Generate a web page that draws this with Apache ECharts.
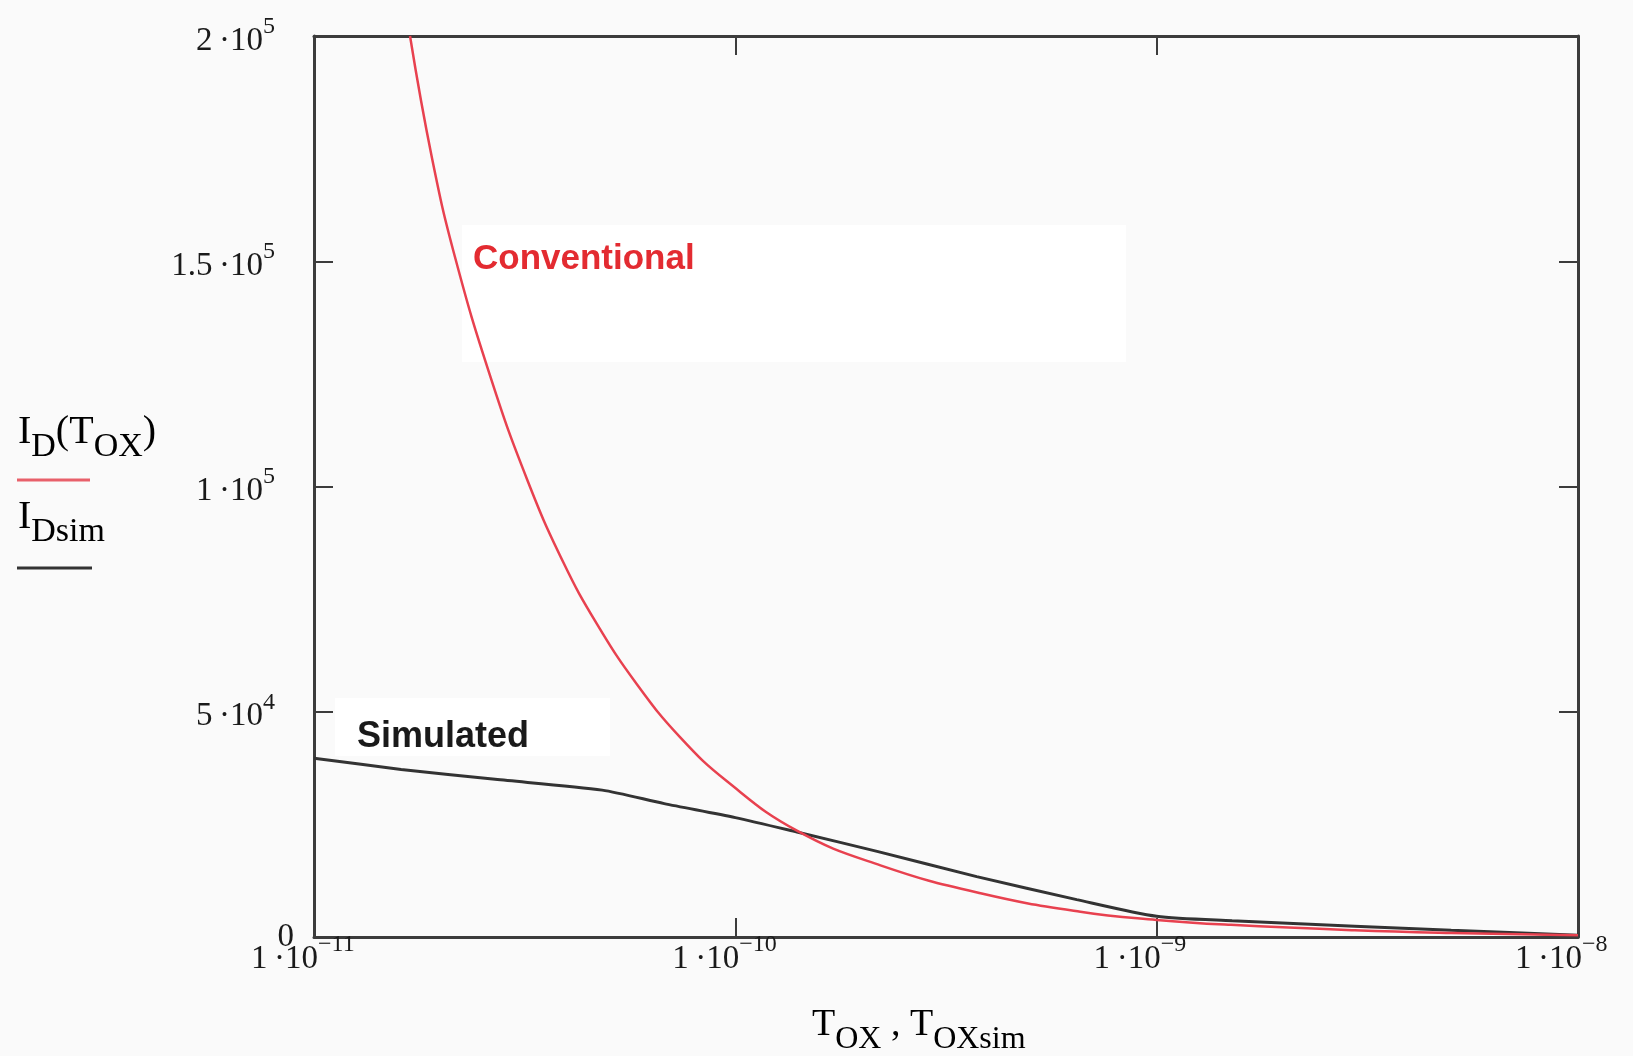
<!DOCTYPE html>
<html>
<head>
<meta charset="utf-8">
<script src="https://cdn.jsdelivr.net/npm/echarts@6/dist/echarts.min.js"></script>
<style>
html,body{margin:0;padding:0;background:#fafafa;}
#chart{width:1633px;height:1056px;}
</style>
</head>
<body>
<div id="chart"></div>
<script>
// ---- data ----
const conventionalT = [1.69e-11, 1.905e-11, 2.16e-11, 2.63e-11, 3.21e-11, 3.90e-11, 4.70e-11, 5.85e-11, 7.40e-11, 9.57e-11, 1.40e-10, 2.21e-10, 3.82e-10, 6.59e-10, 1.00e-9, 1.50e-9, 2.95e-9, 5.0e-9, 1.0e-8];
const conventionalI = [200000, 173000, 151000, 124000, 101400, 83300, 69400, 56000, 44300, 34500, 23600, 15900, 9700, 5600, 3800, 2700, 1500, 900, 400];

const simulatedT = [1.0e-11, 1.61e-11, 2.69e-11, 4.83e-11, 6.78e-11, 1.0e-10, 1.40e-10, 2.17e-10, 3.74e-10, 6.46e-10, 1.0e-9, 1.51e-9, 2.95e-9, 5.0e-9, 1.0e-8];
const simulatedI = [39700, 37200, 35000, 32600, 29600, 26500, 23300, 19000, 13400, 8300, 4600, 3600, 2400, 1500, 400];

const xTicks = [1e-11, 1e-10, 1e-9, 1e-8];
const xTickMantissa = ['1', '1', '1', '1'];
const xTickExponent = ['\u221211', '\u221210', '\u22129', '\u22128'];

const yTicks = [0, 50000, 100000, 150000, 200000];
const yTickMantissa = ['0', '5', '1', '1.5', '2'];
const yTickExponent = ['', '4', '5', '5', '5'];

// ---- chart ----
const SERIF = '"Liberation Serif", "DejaVu Serif", serif';
const SANS = '"Liberation Sans", Arial, sans-serif';
const axisColor = '#3c3c3c';
const BASE_FS = 33, SUP_FS = 24;

const measureCtx = document.createElement('canvas').getContext('2d');
function textWidth(t, size) { measureCtx.font = size + 'px ' + SERIF; return measureCtx.measureText(t).width; }

const labelRichX = {
  b: { fontFamily: SERIF, fontSize: BASE_FS, color: '#1a1a1a', padding: [10, 0, 0, 0] },
  s: { fontFamily: SERIF, fontSize: SUP_FS, color: '#1a1a1a', verticalAlign: 'top' }
};
// spacer after the exponent so that the mantissa part ends at the tick
xTicks.forEach((t, i) => {
  const base = xTickMantissa[i] + '\u2009\u00b710';
  const pad = Math.max(1, textWidth(base, BASE_FS) - textWidth(xTickExponent[i], SUP_FS) - 8);
  labelRichX['p' + i] = { fontSize: 10, width: pad };
});

function xLabel(v) {
  const e = Math.round(Math.log10(v));
  const i = xTicks.findIndex(t => Math.round(Math.log10(t)) === e);
  if (i < 0) return '';
  return '{b|' + xTickMantissa[i] + '\u2009\u00b710}{s|' + xTickExponent[i] + '}{p' + i + '| }';
}
function yLabel(v) {
  const i = yTicks.findIndex(t => Math.abs(t - v) < 1e-6);
  if (i < 0) return '';
  if (!yTickExponent[i]) return '{z|' + yTickMantissa[i] + '}';
  return '{b|' + yTickMantissa[i] + '\u2009\u00b710}{s|' + yTickExponent[i] + '}{sp| }';
}

const labelRichY = {
  b: { fontFamily: SERIF, fontSize: BASE_FS, color: '#1a1a1a', padding: [10, 0, 0, 0] },
  s: { fontFamily: SERIF, fontSize: SUP_FS, color: '#1a1a1a', verticalAlign: 'top' },
  sp: { fontSize: 10, width: 19 },
  z: { fontFamily: SERIF, fontSize: BASE_FS, color: '#1a1a1a' }
};

const tickStyle = { show: true, inside: true, length: 19, lineStyle: { color: axisColor, width: 2 } };
const lineStyleAxis = { show: true, onZero: false, lineStyle: { color: axisColor, width: 3 } };

const titleRich = {
  b: { fontFamily: SERIF, fontSize: 40, color: '#222', padding: [0, 0, 12, 0] },
  s: { fontFamily: SERIF, fontSize: 34, color: '#222', verticalAlign: 'bottom' }
};

const chart = echarts.init(document.getElementById('chart'));
chart.setOption({
  backgroundColor: '#fafafa',
  animation: false,
  grid: { left: 314, top: 36, right: 55, bottom: 119, containLabel: false },
  xAxis: [
    {
      type: 'log', logBase: 10, min: 1e-11, max: 1e-8, position: 'bottom',
      axisLine: lineStyleAxis, axisTick: tickStyle,
      minorTick: { show: false }, splitLine: { show: false }, minorSplitLine: { show: false },
      axisLabel: { show: true, margin: -4, formatter: xLabel, rich: labelRichX, showMinLabel: true, showMaxLabel: true }
    },
    {
      type: 'log', logBase: 10, min: 1e-11, max: 1e-8, position: 'top',
      axisLine: lineStyleAxis, axisTick: tickStyle,
      minorTick: { show: false }, splitLine: { show: false }, axisLabel: { show: false }
    }
  ],
  yAxis: [
    {
      type: 'value', min: 0, max: 200000, interval: 50000, position: 'left',
      axisLine: lineStyleAxis, axisTick: tickStyle, splitLine: { show: false },
      axisLabel: { show: true, margin: 20, formatter: yLabel, rich: labelRichY, showMinLabel: true, showMaxLabel: true }
    },
    {
      type: 'value', min: 0, max: 200000, interval: 50000, position: 'right',
      axisLine: lineStyleAxis, axisTick: tickStyle, splitLine: { show: false }, axisLabel: { show: false }
    }
  ],
  series: [
    {
      type: 'line', name: 'Simulated', xAxisIndex: 0, yAxisIndex: 0,
      data: simulatedT.map((t, i) => [t, simulatedI[i]]),
      showSymbol: false, smooth: 0.25, z: 3,
      lineStyle: { color: '#333333', width: 3 }
    },
    {
      type: 'line', name: 'Conventional', xAxisIndex: 0, yAxisIndex: 0,
      data: conventionalT.map((t, i) => [t, conventionalI[i]]),
      showSymbol: false, smooth: 0.45, z: 4,
      lineStyle: { color: '#e8414f', width: 2.5 }
    }
  ],
  graphic: [
    { type: 'rect', z: 0, shape: { x: 462, y: 225, width: 664, height: 137 }, style: { fill: '#ffffff' } },
    { type: 'rect', z: 0, shape: { x: 335, y: 698, width: 275, height: 58 }, style: { fill: '#ffffff' } },
    { type: 'text', z: 10, x: 473, y: 259, style: { text: 'Conventional', font: 'bold 35px ' + SANS, fill: '#e32b31', verticalAlign: 'middle' } },
    { type: 'text', z: 10, x: 357, y: 737, style: { text: 'Simulated', font: 'bold 36px ' + SANS, fill: '#1a1a1a', verticalAlign: 'middle' } },
    // y-axis title block
    { type: 'text', z: 10, x: 18, y: 412, style: { text: '{b|I}{s|D}{b|(T}{s|OX}{b|)}', verticalAlign: 'top', rich: titleRich } },
    { type: 'line', z: 10, shape: { x1: 17, y1: 480, x2: 90, y2: 480 }, style: { stroke: '#e8606a', lineWidth: 3 } },
    { type: 'text', z: 10, x: 18, y: 497, style: { text: '{b|I}{s|Dsim}', verticalAlign: 'top', rich: titleRich } },
    { type: 'line', z: 10, shape: { x1: 17, y1: 568, x2: 92, y2: 568 }, style: { stroke: '#333333', lineWidth: 3 } },
    // x-axis title
    { type: 'text', z: 10, x: 812, y: 1006, style: {
        text: '{b|T}{s|OX}{b| , T}{s|OXsim}', verticalAlign: 'top',
        rich: { b: { fontFamily: SERIF, fontSize: 38, color: '#222', padding: [0, 0, 12, 0] },
                s: { fontFamily: SERIF, fontSize: 32, color: '#222', verticalAlign: 'bottom' } } } }
  ]
});
</script>
</body>
</html>
